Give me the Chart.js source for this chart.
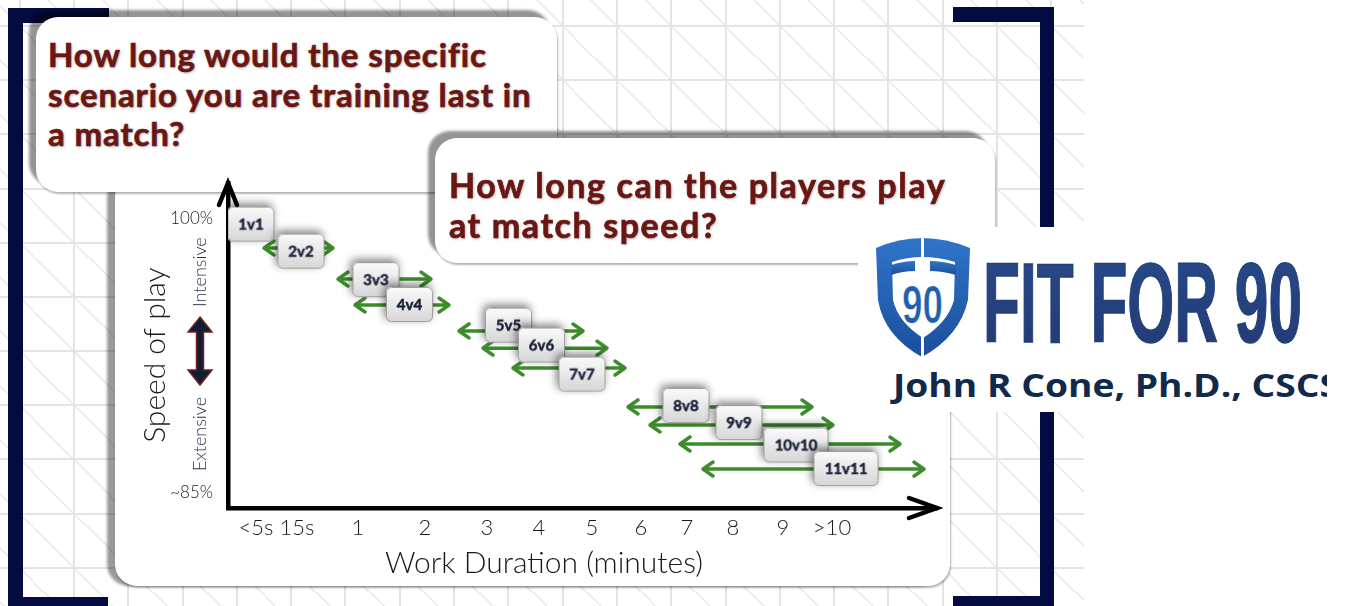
<!DOCTYPE html>
<html>
<head>
<meta charset="utf-8">
<script src="https://cdn.jsdelivr.net/npm/chart.js@4.4.1/dist/chart.umd.min.js"></script>
<style>
  html, body { margin: 0; padding: 0; width: 1345px; height: 606px; overflow: hidden; background: #fff; }
  #pattern { position: absolute; left: 0; top: 0; width: 1084px; height: 606px; background-size: 54.3px 54.2px; background-position: 18.7px 25px; }
  .navy { position: absolute; background: #040b42; }
  .card { position: absolute; background: #fff; border-radius: 22px; box-shadow: -7px -7px 3px rgba(0,0,0,0.42), 1px 2px 2px rgba(0,0,0,0.3); }
  .q { position: absolute; font-family: Lato, sans-serif; font-weight: 700; line-height: 39.5px; color: #6a1713; -webkit-text-stroke: 0.7px #6a1713; text-shadow: 1px 1px 3px rgba(0,0,0,0.3); white-space: nowrap; }
  #chart { position: absolute; left: 0; top: 0; }
  #logo { position: absolute; left: 858px; top: 227px; width: 487px; height: 185px; background: #fff; }
</style>
</head>
<body>
<div id="pattern"></div>

<div class="navy" style="left:8px;top:8px;width:15px;height:598px"></div>
<div class="navy" style="left:8px;top:8px;width:101px;height:15px"></div>
<div class="navy" style="left:8px;top:597px;width:100px;height:9px"></div>
<div class="navy" style="left:1040px;top:7px;width:14px;height:599px"></div>
<div class="navy" style="left:953px;top:7px;width:101px;height:15px"></div>
<div class="navy" style="left:953px;top:596px;width:101px;height:10px"></div>

<div class="card" style="left:115px;top:175px;width:835px;height:411px;box-shadow:-8px 0 3px rgba(0,0,0,0.4), 1px 2px 2px rgba(0,0,0,0.3)"></div>

<div class="card" style="left:36px;top:17px;width:521px;height:175px"></div>
<div class="q" style="left:48px;top:35px;font-size:33px;letter-spacing:0.9px">How long would the specific<br>scenario you are training last in<br>a match?</div>

<canvas id="chart" width="1345" height="606"></canvas>

<div class="card" style="left:435px;top:138px;width:560px;height:125px"></div>
<div class="q" style="left:449px;top:165px;font-size:34px;letter-spacing:1.6px">How long can the players play<br>at match speed?</div>

<div id="logo">
  <svg width="469" height="185" viewBox="858 227 469 185" xmlns="http://www.w3.org/2000/svg">
    <defs>
      <linearGradient id="shieldBlue" x1="0" y1="0" x2="0" y2="1">
        <stop offset="0" stop-color="#2f74c8"/>
        <stop offset="1" stop-color="#1c4e9c"/>
      </linearGradient>
      <linearGradient id="fitBlue" x1="0" y1="0" x2="0" y2="1">
        <stop offset="0" stop-color="#284a8c"/>
        <stop offset="1" stop-color="#223a70"/>
      </linearGradient>
    </defs>
    <path d="M876 248 Q922 228 970 248 L968 300 Q960 336 922 357 Q884 336 878 300 Z" fill="url(#shieldBlue)"/>
    <path d="M892 262 Q922 252 955 262 L954 300 Q948 322 923 338 Q898 322 893 300 Z" fill="#fff"/>
    <path d="M891 265 Q904 261 915 261 L915 271 Q903 271 891 275 Z" fill="url(#shieldBlue)"/>
    <path d="M930 261 Q942 261 956 265 L956 275 Q942 271 930 271 Z" fill="url(#shieldBlue)"/>
    <line x1="922.5" y1="232" x2="922.5" y2="360" stroke="#fff" stroke-width="3"/>
    <text x="902" y="323" font-family="Liberation Sans Narrow, sans-serif" font-weight="bold" font-size="54" fill="#2160ad" stroke="#fff" stroke-width="0.8" textLength="41" lengthAdjust="spacingAndGlyphs">90</text>
    <text x="983" y="342" font-family="Liberation Sans Narrow, sans-serif" font-weight="bold" font-size="114" fill="url(#fitBlue)" stroke="#23407c" stroke-width="1.5" textLength="319" lengthAdjust="spacingAndGlyphs">FIT FOR 90</text>
    <text x="893" y="397" font-family="Open Sans, sans-serif" font-weight="bold" font-size="33" fill="#11294a" textLength="447" lengthAdjust="spacingAndGlyphs">John R Cone, Ph.D., CSCS</text>
  </svg>
</div>

<script>
// x axis: positions along the (non linear) work duration axis
const durationTicks = [0.56, 1.38, 2.6, 3.94, 5.18, 6.22, 7.28, 8.26, 9.18, 10.1, 11.1, 12.08];
const durationLabels = ['<5s', '15s', '1', '2', '3', '4', '5', '6', '7', '8', '9', '>10'];
const speedTicks = [85, 100];
const speedLabels = ['~85%', '100%'];

// small sided games: typical duration and speed of play
const games = ['1v1', '2v2', '3v3', '4v4', '5v5', '6v6', '7v7', '8v8', '9v9', '10v10', '11v11'];
const gameDuration = [0.46, 1.46, 2.96, 3.63, 5.61, 6.27, 7.08, 9.16, 10.22, 11.36, 12.36];
const gameSpeed = [99.67, 98.19, 96.63, 95.27, 94.14, 93.05, 91.46, 89.74, 88.81, 87.58, 86.29];

// duration range each game can be played at match speed
const rangeMin = [null, 0.72, 2.2, 2.54, 4.62, 5.1, 5.7, 8.0, 8.44, 9.04, 9.5];
const rangeMax = [null, 2.1, 4.06, 4.42, 7.1, 7.58, 7.94, 11.68, 12.1, 13.44, 13.92];
const rangeSpeed = [null, 98.36, 96.66, 95.24, 93.82, 92.88, 91.79, 89.66, 88.67, 87.63, 86.26];

const green = '#3c8c2b';

// background grid with diagonals
const tile = "<svg xmlns='http://www.w3.org/2000/svg' width='54.3' height='54.2'>" +
  "<path d='M0 1H54.3M1 0V54.2' stroke='#e4e4e4' stroke-width='2' fill='none'/>" +
  "<path d='M1 1L54.3 54.2' stroke='#e8e8e8' stroke-width='1.4' fill='none'/></svg>";
document.getElementById('pattern').style.backgroundImage = 'url("data:image/svg+xml,' + encodeURIComponent(tile) + '")';

function arrowHead(color) {
  const len = 10, half = 7, lw = 3.5;
  const c = document.createElement('canvas');
  c.width = len * 2 + 8; c.height = half * 2 + 8;
  const g = c.getContext('2d');
  const cx = c.width / 2, cy = c.height / 2;
  g.strokeStyle = color; g.lineWidth = lw; g.lineCap = 'round'; g.lineJoin = 'round';
  g.beginPath();
  g.moveTo(cx - len, cy - half); g.lineTo(cx, cy); g.lineTo(cx - len, cy + half);
  g.stroke();
  return c;
}

function gameBox(label) {
  const font = 'bold 15px Lato';
  const m = document.createElement('canvas').getContext('2d');
  m.font = font;
  const w = Math.round(m.measureText(label).width + 22), h = 35, pad = 12;
  const c = document.createElement('canvas');
  c.width = w + pad * 2; c.height = h + pad * 2;
  const g = c.getContext('2d');
  g.save();
  g.shadowColor = 'rgba(0,0,0,0.5)';
  g.shadowBlur = 9; g.shadowOffsetX = -2; g.shadowOffsetY = -3;
  const grad = g.createLinearGradient(0, pad, 0, pad + h);
  grad.addColorStop(0, '#fbfbfb');
  grad.addColorStop(1, '#d6d6d6');
  g.fillStyle = grad;
  g.beginPath(); g.roundRect(pad, pad, w, h, 5); g.fill();
  g.restore();
  g.strokeStyle = '#a0a0a0'; g.lineWidth = 1;
  g.beginPath(); g.roundRect(pad + 0.5, pad + 0.5, w - 1, h - 1, 5); g.stroke();
  g.fillStyle = '#1b2238'; g.font = font;
  g.strokeStyle = '#1b2238'; g.lineWidth = 0.5;
  g.textAlign = 'center'; g.textBaseline = 'middle';
  g.fillText(label, pad + w / 2, pad + h / 2 + 1);
  g.strokeText(label, pad + w / 2, pad + h / 2 + 1);
  return c;
}

const head = arrowHead(green);
const rangeSets = [];
games.forEach((g, i) => {
  if (rangeMin[i] === null) return;
  rangeSets.push({
    type: 'line',
    data: [{x: rangeMin[i], y: rangeSpeed[i]}, {x: rangeMax[i], y: rangeSpeed[i]}],
    borderColor: green,
    borderWidth: 3.5,
    pointStyle: head,
    pointRotation: [180, 0],
    pointRadius: 6,
    order: 1
  });
});

const axisDecor = {
  id: 'axisDecor',
  afterDraw(chart) {
    const {ctx, scales: {x, y}} = chart;
    ctx.save();
    // axis arrow heads
    ctx.strokeStyle = '#000'; ctx.lineWidth = 4.5; ctx.lineCap = 'round'; ctx.lineJoin = 'miter';
    const ax = x.right, ay = x.top;
    ctx.beginPath(); ctx.moveTo(ax - 28, ay - 10); ctx.lineTo(ax, ay); ctx.lineTo(ax - 28, ay + 10); ctx.stroke();
    const bx = y.right, by = y.top;
    ctx.beginPath(); ctx.moveTo(bx - 9, by + 22); ctx.lineTo(bx, by); ctx.lineTo(bx + 9, by + 22); ctx.stroke();

    // x title, centred on the labelled range
    const x0 = x.getPixelForValue(durationTicks[0]);
    const x1 = x.getPixelForValue(durationTicks[durationTicks.length - 1]);
    ctx.fillStyle = '#1a1a1a';
    ctx.font = '300 30px Lato';
    ctx.textAlign = 'center'; ctx.textBaseline = 'middle';
    ctx.fillText('Work Duration (minutes)', (x0 + x1) / 2, x.top + 55);

    // y title
    const y0 = y.getPixelForValue(speedTicks[0]);
    const y1 = y.getPixelForValue(speedTicks[1]);
    ctx.save();
    ctx.translate(y.right - 73, (y0 + y1) / 2);
    ctx.rotate(-Math.PI / 2);
    ctx.font = '300 30px Lato';
    ctx.fillText('Speed of play', 0, 0);
    ctx.restore();

    // intensive / extensive
    const sx = y.right - 28;
    ctx.fillStyle = '#1f2b46';
    ctx.font = '300 18px Lato';
    [['Intensive', 97.04], ['Extensive', 88.18]].forEach(([t, v]) => {
      ctx.save();
      ctx.translate(sx, y.getPixelForValue(v));
      ctx.rotate(-Math.PI / 2);
      ctx.fillText(t, 0, 0);
      ctx.restore();
    });

    // double arrow between them
    const top = y.getPixelForValue(94.58), bot = y.getPixelForValue(90.86);
    const hw = 12, hl = 15, sw = 3.5;
    ctx.beginPath();
    ctx.moveTo(sx, top);
    ctx.lineTo(sx + hw, top + hl);
    ctx.lineTo(sx + sw, top + hl);
    ctx.lineTo(sx + sw, bot - hl);
    ctx.lineTo(sx + hw, bot - hl);
    ctx.lineTo(sx, bot);
    ctx.lineTo(sx - hw, bot - hl);
    ctx.lineTo(sx - sw, bot - hl);
    ctx.lineTo(sx - sw, top + hl);
    ctx.lineTo(sx - hw, top + hl);
    ctx.closePath();
    ctx.fillStyle = '#0f1f33';
    ctx.fill();
    ctx.strokeStyle = '#7a1d1d'; ctx.lineWidth = 1.5;
    ctx.stroke();
    ctx.restore();
  }
};

new Chart(document.getElementById('chart'), {
  type: 'scatter',
  data: {
    datasets: [{
      data: games.map((g, i) => ({x: gameDuration[i], y: gameSpeed[i]})),
      pointStyle: games.map(gameBox),
      pointRadius: 20,
      order: 0
    }].concat(rangeSets)
  },
  options: {
    responsive: false,
    animation: false,
    events: [],
    layout: { padding: { left: 0, top: 183, right: 408, bottom: 0 } },
    plugins: { legend: { display: false }, tooltip: { enabled: false } },
    scales: {
      x: {
        type: 'linear', min: 0, max: 14.18,
        grid: { display: false, drawTicks: false },
        border: { display: true, color: '#000', width: 4.5 },
        afterFit: s => { s.height = 98; },
        afterBuildTicks: s => { s.ticks = durationTicks.map(v => ({value: v})); },
        ticks: {
          autoSkip: false, maxRotation: 0, padding: 7,
          color: '#1a1a1a', font: { family: 'Lato', weight: '300', size: 22 },
          callback: (v, i) => durationLabels[i]
        }
      },
      y: {
        type: 'linear', min: 84.13, max: 101.92,
        grid: { display: false, drawTicks: false },
        border: { display: true, color: '#000', width: 4.5 },
        afterFit: s => { s.width = 228; },
        afterBuildTicks: s => { s.ticks = speedTicks.map(v => ({value: v})); },
        ticks: {
          autoSkip: false, padding: 15,
          color: '#1a1a1a', font: { family: 'Lato', weight: '300', size: 17 },
          callback: (v, i) => speedLabels[i]
        }
      }
    }
  },
  plugins: [axisDecor]
});
</script>
</body>
</html>
